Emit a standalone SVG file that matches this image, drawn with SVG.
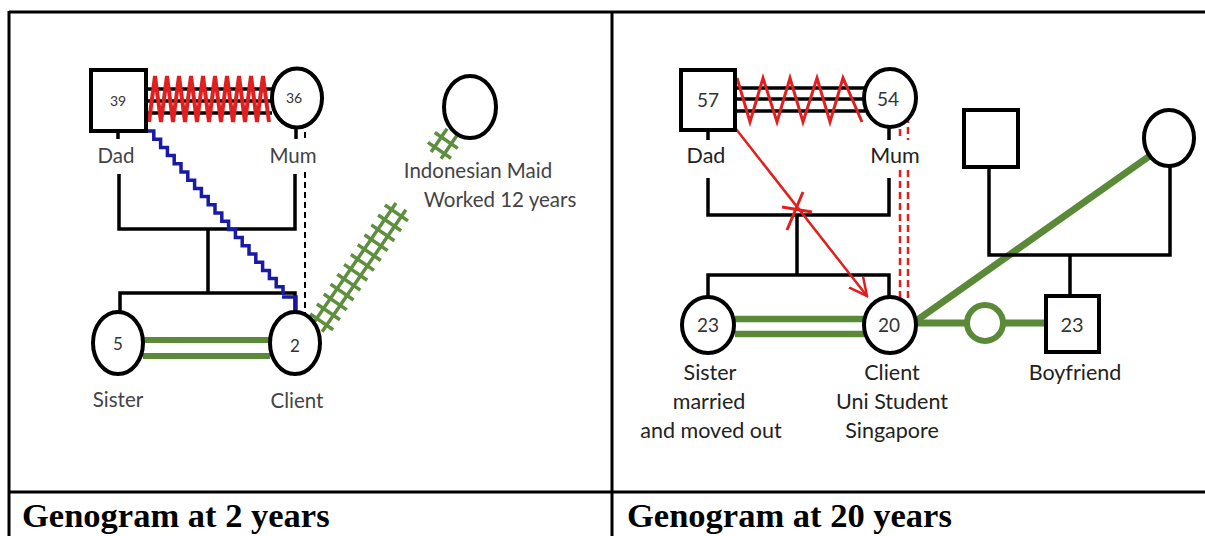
<svg xmlns="http://www.w3.org/2000/svg" width="1205" height="536" viewBox="0 0 1205 536">
<style>
.frame{stroke:#000;stroke-width:3;fill:none}
.ln{stroke:#000;stroke-width:3.5;fill:none}
.node{fill:#fff;stroke:#000;stroke-width:4}
.lbl{font-family:Lato,"Liberation Sans",sans-serif;fill:#3a3a3a;text-anchor:middle}
.lblL{font-size:20.5px;fill:#444}
.lblR{font-size:21.5px;fill:#222}
.num{font-family:Lato,"Liberation Sans",sans-serif;text-anchor:middle;fill:#333}
.title{font-family:"Liberation Serif","Times New Roman",serif;font-weight:bold;font-size:34.5px;fill:#000}
.green{stroke:#5a8a38;fill:none}
.red{stroke:#e0201e;fill:none}
</style>
<defs>
<marker id="arr" viewBox="0 0 20 20" refX="18" refY="10" markerWidth="20" markerHeight="20" markerUnits="userSpaceOnUse" orient="auto">
<path d="M0,1 L18,10 L0,19" fill="none" stroke="#e0201e" stroke-width="2.5"/>
</marker>
</defs>
<rect width="1205" height="536" fill="#fff"/>
<g id="table">
<line class="frame" x1="9" y1="12" x2="1205" y2="12"/>
<line class="frame" x1="9" y1="11" x2="9" y2="536"/>
<line class="frame" x1="612" y1="12" x2="612" y2="536"/>
<line class="frame" x1="9" y1="492" x2="1205" y2="492"/>
<text class="title" x="22" y="527">Genogram at 2 years</text>
<text class="title" x="627" y="527">Genogram at 20 years</text>
</g>
<g id="connectors">
<!-- left panel -->
<path class="ln" d="M146,89 H272 M146,101 H272 M146,113 H272"/>
<path class="red" stroke-width="4" stroke="#d8242a" d="M149,122 L155,76 L161,122 L167,76 L173,122 L179,76 L185,122 L191,76 L197,122 L203,76 L209,122 L215,76 L221,122 L227,76 L233,122 L239,76 L245,122 L251,76 L257,122 L263,76 L269,122"/>
<path class="ln" d="M118,131 V139 M296,127 V139"/>
<path class="ln" d="M119,174 V229 H295 V174 M208,229 V293 M120,312 V293 H295 V312"/>
<path d="M305,122 V140 M305,172 V313" stroke="#000" stroke-width="2" stroke-dasharray="6 4" fill="none"/>
<path d="M147,131 h6.8v8.2h6.8v8.2h6.8v8.2h6.8v8.2h6.8v8.2h6.8v8.2h6.8v8.2h6.8v8.2h6.8v8.2h6.8v8.2h6.8v8.2h6.8v8.2h6.8v8.2h6.8v8.2h6.8v8.2h6.8v8.2h6.8v8.2h6.8v8.2h6.8v8.2h6.8v8.2 M282,297 H296 V311" fill="none" stroke="#1a1aa8" stroke-width="3.5"/>
<path class="green" stroke-width="6" d="M143,340 H270 M143,356 H270"/>
<g transform="translate(316,330) rotate(-55.5)" stroke="#5e8f3e" stroke-width="3.5" fill="none">
<path d="M2,-6 H150 M2,6 H150 M212,-6 H240 M212,6 H240"/>
<path d="M10,-14 V14 M22,-14 V14 M34,-14 V14 M46,-14 V14 M58,-14 V14 M70,-14 V14 M82,-14 V14 M94,-14 V14 M106,-14 V14 M118,-14 V14 M130,-14 V14 M142,-14 V14 M218,-14 V14 M230,-14 V14"/>
</g>
<!-- right panel -->
<path class="ln" d="M735,88 H865 M735,99 H865 M735,111 H865"/>
<path class="red" stroke-width="3" d="M737,78 L750,122 L763,78 L777,122 L790,78 L803,122 L817,78 L830,122 L843,78 L862,122"/>
<path class="ln" d="M708,130 V140 M889,128 V140"/>
<path class="ln" d="M708,178 V215 H889 V178 M797,215 V275 M708,297 V275 H889 V297"/>
<path class="red" stroke-width="2.5" stroke-dasharray="7 4" d="M900,118 V140 M908,116 V140 M900,170 V298 M908,170 V298"/>
<line x1="736" y1="129" x2="867" y2="296" stroke="#e0201e" stroke-width="2.5" marker-end="url(#arr)"/>
<path class="red" stroke-width="3" d="M782,207 L812,212 M787,230 L803,192"/>
<path class="green" stroke-width="6.5" d="M735,319 H864 M735,334 H864"/>
<path class="green" stroke-width="7" d="M913,323 L1151,155"/>
<path class="green" stroke-width="7" d="M913,323 H1045"/>
<path class="ln" d="M989,167 V255 H1170 V166 M1070,255 V295"/>
</g>
<g id="dad-left"><rect class="node" x="91" y="70" width="55" height="61"/><text class="num" x="118" y="106" font-size="14">39</text></g>
<g id="mum-left"><ellipse class="node" cx="297" cy="98" rx="25" ry="29.5"/><text class="num" x="294" y="103" font-size="14">36</text></g>
<g id="maid"><ellipse class="node" cx="470" cy="107" rx="26" ry="31"/></g>
<g id="sister-left"><ellipse class="node" cx="118" cy="343" rx="25" ry="31"/><text class="num" x="118" y="350" font-size="17">5</text></g>
<g id="client-left"><ellipse class="node" cx="295" cy="343" rx="25" ry="31"/><text class="num" x="295" y="352" font-size="17">2</text></g>
<g id="labels-left">
<text class="lbl lblL" x="116" y="163">Dad</text>
<text class="lbl lblL" x="293" y="163">Mum</text>
<text class="lbl lblL" x="118" y="407">Sister</text>
<text class="lbl lblL" x="297" y="408">Client</text>
<text class="lbl lblL" x="478" y="178">Indonesian Maid</text>
<text class="lbl lblL" x="500" y="207">Worked 12 years</text>
</g>
<g id="dad-right"><rect class="node" x="681" y="70" width="54" height="60" stroke-width="5"/><text class="num" x="708" y="107" font-size="19">57</text></g>
<g id="mum-right"><ellipse class="node" cx="890" cy="98" rx="26" ry="29"/><text class="num" x="888" y="106" font-size="19">54</text></g>
<g id="sister-right"><ellipse class="node" cx="708" cy="325" rx="26" ry="28"/><text class="num" x="708" y="332" font-size="19">23</text></g>
<g id="client-right"><ellipse class="node" cx="890" cy="325" rx="26" ry="28"/><text class="num" x="889" y="332" font-size="19">20</text></g>
<g id="bf-father"><rect class="node" x="964" y="110" width="54" height="57"/></g>
<g id="bf-mother"><ellipse class="node" cx="1169" cy="138" rx="25" ry="28"/></g>
<g id="bf-child"><circle cx="985" cy="323" r="18" fill="#fff" stroke="#5a8a38" stroke-width="6"/></g>
<g id="boyfriend"><rect class="node" x="1046" y="296" width="53" height="56"/><text class="num" x="1072" y="332" font-size="20">23</text></g>
<g id="labels-right">
<text class="lbl lblR" x="706" y="163">Dad</text>
<text class="lbl lblR" x="895" y="163">Mum</text>
<text class="lbl lblR" x="710" y="380">Sister</text>
<text class="lbl lblR" x="709" y="409">married</text>
<text class="lbl lblR" x="711" y="438">and moved out</text>
<text class="lbl lblR" x="892" y="380">Client</text>
<text class="lbl lblR" x="892" y="409">Uni Student</text>
<text class="lbl lblR" x="892" y="438">Singapore</text>
<text class="lbl lblR" x="1075" y="380">Boyfriend</text>
</g>
</svg>
